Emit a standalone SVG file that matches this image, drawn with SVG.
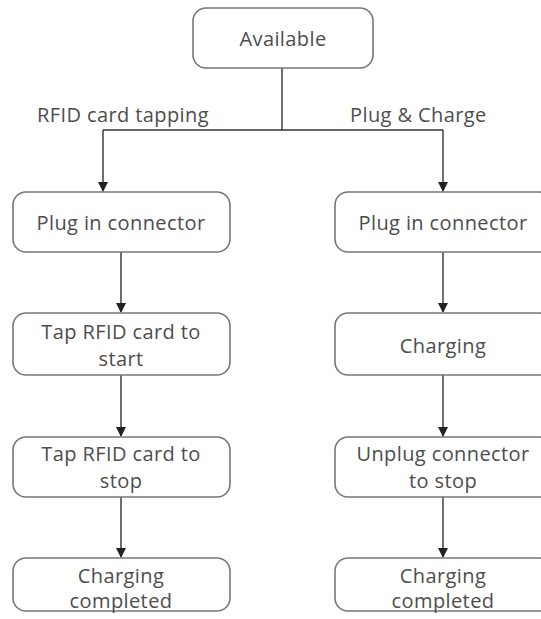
<svg xmlns="http://www.w3.org/2000/svg" width="541" height="619" viewBox="0 0 541 619">
  <defs>
    <marker id="arrow" markerWidth="10" markerHeight="10" refX="9" refY="5" orient="auto" markerUnits="userSpaceOnUse">
      <path d="M0,0 L10,5 L0,10 Z" fill="#222"/>
    </marker>
  </defs>
  <style>
    .box { fill: #fff; stroke: #777; stroke-width: 1.6; }
    .lbl { font-family: "Open Sans", "DejaVu Sans", sans-serif; font-size: 20px; font-weight: 500; letter-spacing: 0.4px; fill: #4d4d4d; text-anchor: middle; dominant-baseline: central; }
    .edge { fill: none; stroke: #333; stroke-width: 1.4; }
    .elbl { font-family: "Open Sans", "DejaVu Sans", sans-serif; font-size: 20px; font-weight: 500; letter-spacing: 0.4px; fill: #4d4d4d; }
  </style>
  <rect width="541" height="619" fill="#fff"/>

  <g id="connectors">
    <path class="edge" d="M282,68 V130"/>
    <path class="edge" d="M103,130 H443"/>
    <path class="edge" d="M103,130 V191" marker-end="url(#arrow)"/>
    <path class="edge" d="M443,130 V191" marker-end="url(#arrow)"/>
    <path class="edge" d="M121,252 V312" marker-end="url(#arrow)"/>
    <path class="edge" d="M121,375 V436" marker-end="url(#arrow)"/>
    <path class="edge" d="M121,497 V557" marker-end="url(#arrow)"/>
    <path class="edge" d="M443,252 V312" marker-end="url(#arrow)"/>
    <path class="edge" d="M443,375 V436" marker-end="url(#arrow)"/>
    <path class="edge" d="M443,497 V557" marker-end="url(#arrow)"/>
    <text class="elbl" x="37" y="122">RFID card tapping</text>
    <text class="elbl" x="350" y="122">Plug &amp; Charge</text>
  </g>

  <g id="available">
    <rect class="box" x="193" y="8" width="180" height="60" rx="13"/>
    <text class="lbl" x="283" y="38">Available</text>
  </g>

  <g id="rfid-plug">
    <rect class="box" x="13" y="192" width="217" height="60" rx="13"/>
    <text class="lbl" x="121" y="222">Plug in connector</text>
  </g>
  <g id="rfid-start">
    <rect class="box" x="13" y="313" width="217" height="62" rx="13"/>
    <text class="lbl" x="121" y="331">Tap RFID card to</text>
    <text class="lbl" x="121" y="358">start</text>
  </g>
  <g id="rfid-stop">
    <rect class="box" x="13" y="437" width="217" height="60" rx="13"/>
    <text class="lbl" x="121" y="453">Tap RFID card to</text>
    <text class="lbl" x="121" y="480">stop</text>
  </g>
  <g id="rfid-done">
    <rect class="box" x="13" y="558" width="217" height="53" rx="13"/>
    <text class="lbl" x="121" y="575">Charging</text>
    <text class="lbl" x="121" y="600">completed</text>
  </g>

  <g id="pnc-plug">
    <rect class="box" x="335" y="192" width="217" height="60" rx="13"/>
    <text class="lbl" x="443" y="222">Plug in connector</text>
  </g>
  <g id="pnc-charging">
    <rect class="box" x="335" y="313" width="217" height="62" rx="13"/>
    <text class="lbl" x="443" y="345">Charging</text>
  </g>
  <g id="pnc-unplug">
    <rect class="box" x="335" y="437" width="217" height="60" rx="13"/>
    <text class="lbl" x="443" y="453">Unplug connector</text>
    <text class="lbl" x="443" y="480">to stop</text>
  </g>
  <g id="pnc-done">
    <rect class="box" x="335" y="558" width="217" height="53" rx="13"/>
    <text class="lbl" x="443" y="575">Charging</text>
    <text class="lbl" x="443" y="600">completed</text>
  </g>
</svg>
